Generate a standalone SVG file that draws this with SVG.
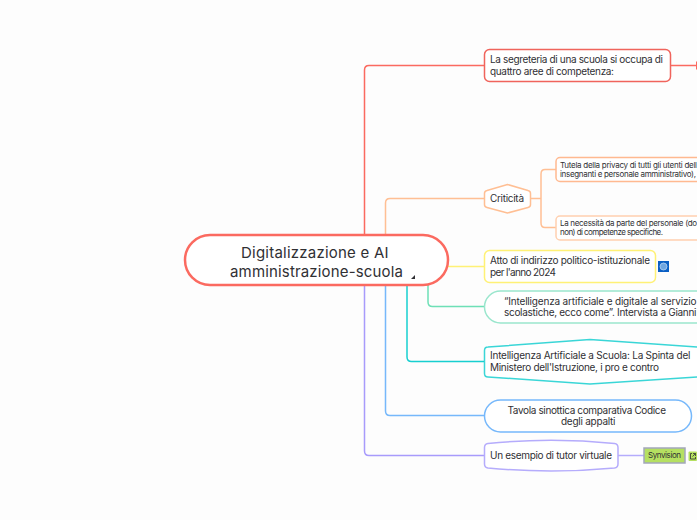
<svg xmlns="http://www.w3.org/2000/svg" width="697" height="520" viewBox="0 0 697 520">
<style>
text{font-family:"Inter","Noto Sans",sans-serif;fill:#303034;font-size:10px}
.c{fill:none;stroke-width:1.5;stroke-linejoin:round}
.n{fill:#fff;stroke-width:1.5;stroke-linejoin:round}
.s{font-size:8px}
.h{font-size:15px}
</style>
<rect width="697" height="520" fill="#fdfdfd"/>
<g id="connectors">
<path class="c" stroke="#fb6a60" d="M364.500 236V70Q364.500 65.500 369 65.500H484"/>
<path class="c" stroke="#fb6a60" d="M671 65.500H697"/>
<path class="c" stroke="#ffbf94" d="M385.500 236V203Q385.500 198.500 390 198.500H484"/>
<path class="c" stroke="#ffbf94" d="M530 198.500H541"/>
<path class="c" stroke="#ffbf94" d="M556 169.500H545Q541 169.500 541 174V223Q541 227.500 545 227.500H556"/>
<path class="c" stroke="#fff176" d="M447 266.500H484"/>
<path class="c" stroke="#6ee0b6" d="M428 285V302Q428 306.500 432.500 306.500H484"/>
<path class="c" stroke="#17cfd0" d="M407 285V357Q407 361.500 411.500 361.500H484"/>
<path class="c" stroke="#76b8fb" d="M385.500 285V411Q385.500 415.500 390 415.500H484"/>
<path class="c" stroke="#a89bfc" d="M364.500 285V451Q364.500 455.500 369 455.500H484"/>
<path class="c" stroke="#b5acfc" d="M618 455.500H644"/>
</g>
<g id="root">
<rect class="n" x="185" y="235" width="263" height="50" rx="25" stroke="#fb6a60" style="stroke-width:2.500"/>
<text class="h" x="241" y="258" textLength="147.500">Digitalizzazione e AI</text>
<text class="h" x="230" y="277" textLength="173">amministrazione-scuola</text>
<path d="M411 279L415 275V279Z" fill="#303034"/>
</g>
<g id="n1">
<rect class="n" x="484.500" y="49.500" width="186" height="32" rx="5" stroke="#f0645c"/>
<text x="490" y="63" textLength="173">La segreteria di una scuola si occupa di</text>
<text x="490" y="75" textLength="124">quattro aree di competenza:</text>
</g>
<g id="n1a"><rect x="696" y="61.500" width="3" height="8" fill="#fb6a60"/></g>
<g id="n2">
<path class="n" stroke="#ffbf94" d="M487 190.500L507.500 184.500L528 190.500Q530.500 191 530.500 193.500V204.500Q530.500 207 528 207.500L507.500 213L487 207.500Q484.500 207 484.500 204.500V193.500Q484.500 191 487 190.500Z"/>
<text x="490" y="202" textLength="34">Criticità</text>
</g>
<g id="n2a">
<rect class="n" x="556" y="157.500" width="160" height="24" rx="4" stroke="#ffb990"/>
<text class="s" x="560" y="168" textLength="137">Tutela della privacy di tutti gli utenti dell</text>
<text class="s" x="560" y="177" textLength="136">insegnanti e personale amministrativo),</text>
</g>
<g id="n2b">
<rect class="n" x="556" y="216" width="160" height="24" rx="4" stroke="#ffd0b0"/>
<text class="s" x="560" y="226" textLength="137">La necessità da parte del personale (do</text>
<text class="s" x="560" y="235" textLength="103">non) di competenze specifiche.</text>
</g>
<g id="n3">
<rect class="n" x="484.500" y="250.500" width="171" height="32" rx="5" stroke="#fff176"/>
<text x="490" y="264" textLength="160">Atto di indirizzo politico-istituzionale</text>
<text x="490" y="276" textLength="66">per l'anno 2024</text>
<rect x="658" y="261" width="11" height="11" fill="#0a5fc4"/>
<circle cx="663.500" cy="266.500" r="3.500" fill="#6fa6e0" stroke="#b5d3f2" stroke-width="0.800"/>
</g>
<g id="n4">
<rect class="n" x="484.500" y="291" width="260" height="32" rx="16" stroke="#9ae6cd"/>
<text x="504" y="305" textLength="192.500">“Intelligenza artificiale e digitale al servizio</text>
<text x="504" y="316" textLength="192.500">scolastiche, ecco come”. Intervista a Gianni</text>
</g>
<g id="n5">
<path class="n" stroke="#17cfd0" stroke-opacity="0.850" d="M488 347L590 339.500L712 348V376L590 384L488 377Q484.500 377 484.500 373.500V350.500Q484.500 347 488 347Z"/>
<text x="490" y="359" textLength="200.500">Intelligenza Artificiale a Scuola: La Spinta del</text>
<text x="490" y="371" textLength="169">Ministero dell'Istruzione, i pro e contro</text>
</g>
<g id="n6">
<rect class="n" x="484.500" y="400" width="207" height="32" rx="16" stroke="#76b8fb"/>
<text x="507.500" y="414" textLength="158.500">Tavola sinottica comparativa Codice</text>
<text x="561" y="425" textLength="54.500">degli appalti</text>
</g>
<g id="n7">
<path class="n" stroke="#b5acfc" d="M488 443.500Q551 437 614.500 443.500Q618 444 618 447.500V464Q618 467.500 614.500 468Q551 474 488 468Q484.500 467.500 484.500 464V447.500Q484.500 444 488 443.500Z"/>
<text x="490" y="459" textLength="122">Un esempio di tutor virtuale</text>
</g>
<g id="n8">
<rect x="644" y="448" width="41" height="15" fill="#b5e061" stroke="#a3a7ba" stroke-width="1.500"/>
<text class="s" x="648" y="458" textLength="33">Synvision</text>
<rect x="688.500" y="451.500" width="8.500" height="9.500" rx="1" fill="#b5e061"/>
<path d="M692 453.500H690.500V459H695.500V457M693 453.500H695.500V456M695.500 453.500L692.500 456.500" fill="none" stroke="#303034" stroke-width="0.800"/>
</g>
</svg>
